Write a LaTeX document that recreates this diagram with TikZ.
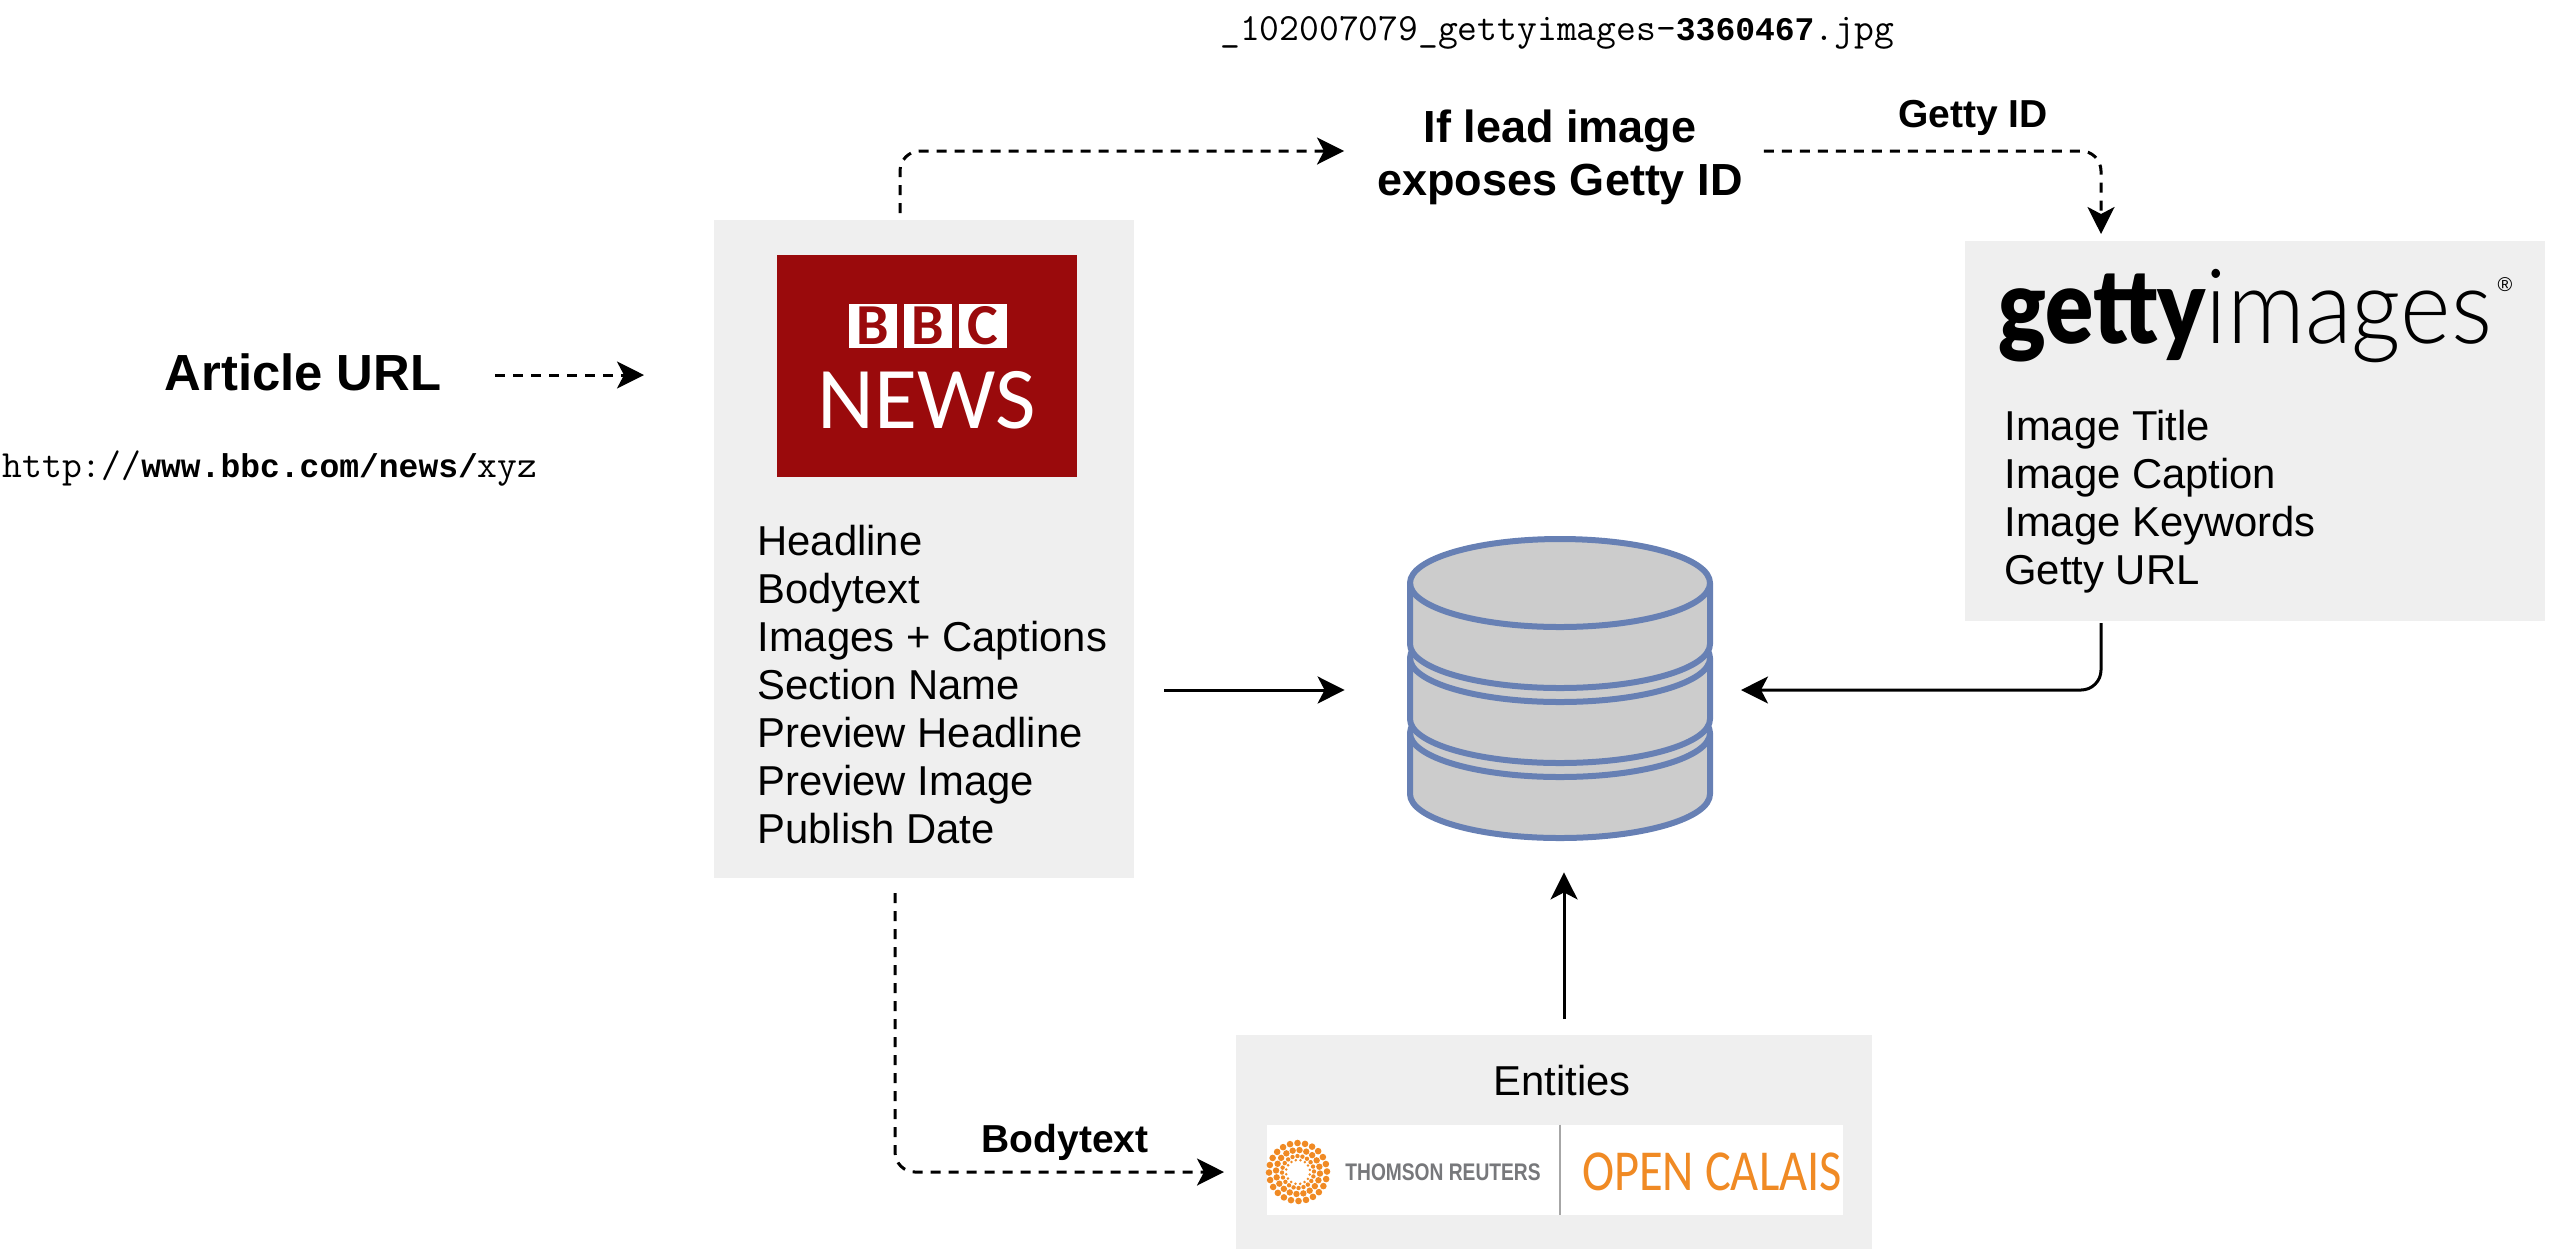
\documentclass[tikz,border=0pt]{standalone}
\usepackage{fontspec}
\setmainfont{Liberation Sans}
\newfontfamily\gillfam{Carlito}
\newfontfamily\gettyboldfam{Lato Black}
\newfontfamily\gettylightfam{Lato Light}
\newfontfamily\boldmonofam{Liberation Mono}
\usetikzlibrary{arrows.meta,positioning}
\newcommand{\bmono}[1]{{\boldmonofam\bfseries\fontsize{16.5}{20}\selectfont #1}}
\definecolor{boxgray}{HTML}{EFEFEF}
\definecolor{bbcred}{HTML}{9A0A0C}
\definecolor{dbfill}{HTML}{CCCCCC}
\definecolor{dbline}{HTML}{6780B4}
\definecolor{calais}{HTML}{F08A24}
\definecolor{tr}{HTML}{77787B}
\tikzset{
    graybox/.style={fill=boxgray,inner sep=0pt},
    listtext/.style={anchor=north west,align=left,inner sep=0pt,font=\fontsize{20.9}{24}\selectfont},
    boldtext/.style={inner sep=0pt,align=center,font=\bfseries\fontsize{22.5}{26.5}\selectfont},
    boldsmall/.style={inner sep=0pt,font=\bfseries\fontsize{19.5}{22}\selectfont},
    monotext/.style={inner sep=0pt,font=\ttfamily\fontsize{19.24}{20}\selectfont},
    solidarrow/.style={line width=1.5pt,-{Stealth[length=13.5pt,width=13.5pt,inset=3.5pt]},rounded corners=10pt},
    dasharrow/.style={solidarrow,dash pattern=on 5pt off 4pt},
    bbcletter/.style={fill=white,text=bbcred,inner sep=0pt,minimum width=24pt,minimum height=22pt,font=\gillfam\bfseries\fontsize{29}{29}\selectfont},
    dbcan/.style={fill=dbfill,draw=dbline,line width=3pt},
    dbarc/.style={draw=dbline,line width=3pt}
}
\begin{document}
\begin{tikzpicture}[x=0.5pt,y=-0.5pt]
\useasboundingbox (0,0) rectangle (2570,1250);
% boxes
\node[graybox,minimum width=210pt,minimum height=329pt] (bbc) at (924,549) {};
\node[graybox,minimum width=290pt,minimum height=190pt] (getty) at (2255,431) {};
\node[graybox,minimum width=318pt,minimum height=107pt] (entities) at (1554,1142) {};
% bbc logo
\node[fill=bbcred,inner sep=0pt,minimum width=150pt,minimum height=111pt] (bbclogo) at (927,366) {};
\foreach \name/\letter/\x in {b1/B/873,b2/B/928,c1/C/983}
    \node[bbcletter] (\name) at (\x,326) {\letter};
\node[inner sep=0pt,text=white,font=\gillfam\fontsize{44}{44}\selectfont] (news) at (927,400) {NEWS};
% lists
\node[listtext] (bbclist) at (757,525) {Headline\\Bodytext\\Images + Captions\\Section Name\\Preview Headline\\Preview Image\\Publish Date};
\node[listtext] (gettylist) at (2004,410) {Image Title\\Image Caption\\Image Keywords\\Getty URL};
% getty logo
\node[inner sep=0pt,anchor=base west] (gettylogo) at (1998,343) {\fontsize{52}{52}\selectfont\scalebox{0.86}[1]{\gettyboldfam getty}\scalebox{0.93}[1]{\gettylightfam images}};
\node[inner sep=0pt,font=\fontsize{10}{10}\selectfont] (reg) at (2505,285) {\textregistered};
% labels
\node[monotext] (filename) at (1557,33) {\_102007079\_gettyimages-\bmono{3360467}.jpg};
\node[boldtext] (lead) at (1560,157) {If lead image\\exposes Getty ID};
\node[boldsmall] (gettyid) at (1973,118) {Getty ID};
\node[boldtext,font=\bfseries\fontsize{25.4}{28}\selectfont] (url) at (303,372) {Article URL};
\node[monotext] (urltext) at (270,469) {http://\bmono{www.bbc.com/news/}xyz};
\node[boldsmall] (bodytext) at (1065,1142) {Bodytext};
\node[inner sep=0pt,font=\fontsize{20.9}{24}\selectfont] (entlabel) at (1562,1081) {Entities};
% calais strip
\node[fill=white,inner sep=0pt,minimum width=288pt,minimum height=45pt] (strip) at (1555,1170) {};
\draw[gray!70,line width=1pt] (strip.north) ++(5,0) -- ++(0,90);
\node[inner sep=0pt,text=tr,font=\bfseries\fontsize{12}{12}\selectfont] (tlabel) at (1443,1172) {\scalebox{0.8}[1]{THOMSON REUTERS}};
\node[inner sep=0pt,text=calais,font=\gillfam\fontsize{29}{30}\selectfont] (olabel) at (1712,1172) {\scalebox{0.835}[1]{OPEN CALAIS}};
\foreach \r/\s/\n in {29/3.3/24,22/3.2/20,16/2.2/20,12/1.4/16} {
    \foreach \i in {1,...,\n}
        \fill[calais] (1298,1172) ++({360*\i/\n+\r}:{\r}) circle[radius=\s];
}
% db
\node[inner sep=0pt,minimum width=153pt,minimum height=153pt] (db) at (1560,690) {};
\foreach \y in {794,719,644} {
    \draw[dbcan] (1410,\y-61) arc[start angle=180,end angle=360,x radius=150,y radius=44]
        -- (1710,\y) arc[start angle=0,end angle=180,x radius=150,y radius=44] -- cycle;
    \draw[dbarc] (1410,\y-61) arc[start angle=180,end angle=0,x radius=150,y radius=44];
}
% arrows
\coordinate (urlin) at (495,375);
\coordinate (bbcup) at (900,213);
\coordinate (bbcdown) at (895,893);
\coordinate (gettydown) at (2101,623);
\coordinate (entup) at (1564,1019);
\draw[dasharrow] (urlin) -- (644,375);
\draw[dasharrow,shorten >=16.5pt] (bbcup) |- ([yshift=3pt]lead.west);
\draw[dasharrow,shorten <=10.5pt] ([yshift=3pt]lead.east) -| (2101,234);
\draw[solidarrow,shorten <=15pt,shorten >=31pt] (bbc.east |- db.west) -- (db.west);
\draw[solidarrow] (gettydown) |- (1741,690);
\draw[solidarrow,shorten >=14.5pt] (entup) -- ([xshift=2pt]db.south);
\draw[dasharrow] (bbcdown) |- (1224,1172);
\end{tikzpicture}
\end{document}
